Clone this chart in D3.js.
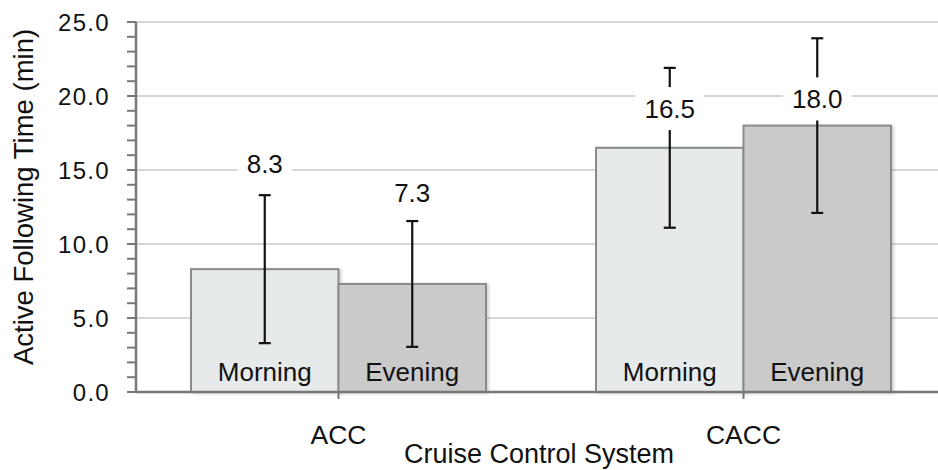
<!DOCTYPE html>
<html>
<head>
<meta charset="utf-8">
<script src="https://cdn.jsdelivr.net/npm/d3@7"></script>
<style>
  html, body { margin: 0; padding: 0; background: #fff; }
  svg { display: block; }
  text { font-family: "Liberation Sans", Arial, Helvetica, sans-serif; fill: #111; }
</style>
</head>
<body>
<svg id="chart" width="938" height="470"></svg>
<script>
// ---- data ----
const categories = ["ACC", "CACC"];
const series = ["Morning", "Evening"];
const values = [[8.3, 7.3], [16.5, 18.0]];
const errors = [[5.0, 4.25], [5.4, 5.9]];
const valueLabels = [["8.3", "7.3"], ["16.5", "18.0"]];
const labelAt = [[15.4, 13.45], [19.15, 19.8]];   // where the value label sits (in y units)
const yTicks = [0, 5, 10, 15, 20, 25];
const yMinorTicks = d3.range(0, 26, 1);
const yTitle = "Active Following Time (min)";
const xTitle = "Cruise Control System";

// ---- layout ----
const svg = d3.select("#chart");
const W = 938, H = 470;
const mLeft = 136, mRight = 946, mTop = 22, mBottom = 392;

const y = d3.scaleLinear().domain([0, 25]).range([mBottom, mTop]);
const x0 = d3.scaleBand().domain(categories).range([mLeft, mRight]).paddingInner(0).paddingOuter(0);
const x1 = d3.scaleBand().domain(series).range([0, x0.bandwidth()]).paddingInner(0).paddingOuter(0.373);

const fills = { Morning: "#e7eaeb", Evening: "#cacaca" };

// shadow filter
const defs = svg.append("defs");
const f = defs.append("filter").attr("id", "sh").attr("x", "-10%").attr("y", "-10%").attr("width", "130%").attr("height", "130%");
f.append("feDropShadow").attr("dx", 2).attr("dy", 1).attr("stdDeviation", 1.5).attr("flood-color", "#000").attr("flood-opacity", 0.18);

// gridlines
svg.append("g").selectAll("line").data(yTicks.filter(d => d > 0)).join("line")
  .attr("x1", mLeft).attr("x2", W)
  .attr("y1", d => y(d)).attr("y2", d => y(d))
  .attr("stroke", "#d6d6d6").attr("stroke-width", 2);

// bars
const groups = svg.append("g").selectAll("g").data(categories).join("g")
  .attr("transform", d => `translate(${x0(d)},0)`);

groups.each(function(cat, ci) {
  const g = d3.select(this);
  series.forEach((s, si) => {
    const v = values[ci][si];
    g.append("rect")
      .attr("x", x1(s)).attr("y", y(v))
      .attr("width", x1.bandwidth()).attr("height", y(0) - y(v))
      .attr("fill", fills[s]).attr("stroke", "#8a8a8a").attr("stroke-width", 2)
      .attr("filter", "url(#sh)");
  });
  series.forEach((s, si) => {
    g.append("text")
      .attr("x", x1(s) + x1.bandwidth() / 2).attr("y", y(0) - 11)
      .attr("text-anchor", "middle").attr("font-size", 26)
      .text(s);
  });
});

// error bars
groups.each(function(cat, ci) {
  const g = d3.select(this);
  series.forEach((s, si) => {
    const v = values[ci][si], e = errors[ci][si];
    const cx = x1(s) + x1.bandwidth() / 2;
    const eg = g.append("g").attr("stroke", "#111").attr("stroke-width", 2.2);
    eg.append("line").attr("x1", cx).attr("x2", cx).attr("y1", y(v + e)).attr("y2", y(v - e));
    eg.append("line").attr("x1", cx - 6).attr("x2", cx + 6).attr("y1", y(v + e)).attr("y2", y(v + e));
    eg.append("line").attr("x1", cx - 6).attr("x2", cx + 6).attr("y1", y(v - e)).attr("y2", y(v - e));
  });
});

// value labels with white boxes
groups.each(function(cat, ci) {
  const g = d3.select(this);
  series.forEach((s, si) => {
    const cx = x1(s) + x1.bandwidth() / 2;
    const cy = y(labelAt[ci][si]);
    const lg = g.append("g");
    const t = lg.append("text")
      .attr("x", cx).attr("y", cy).attr("dy", "0.35em")
      .attr("text-anchor", "middle").attr("font-size", 26)
      .text(valueLabels[ci][si]);
    const bb = t.node().getBBox();
    lg.insert("rect", "text")
      .attr("x", bb.x - 9).attr("y", cy - 21.5)
      .attr("width", bb.width + 18).attr("height", 43)
      .attr("fill", "#fff");
  });
});

// y axis
const yAxis = svg.append("g");
yAxis.append("line").attr("x1", mLeft).attr("x2", mLeft).attr("y1", mTop).attr("y2", mBottom)
  .attr("stroke", "#777").attr("stroke-width", 2.5);
yAxis.selectAll("line.minor").data(yMinorTicks).join("line").attr("class", "minor")
  .attr("x1", mLeft - 9).attr("x2", mLeft)
  .attr("y1", d => y(d)).attr("y2", d => y(d))
  .attr("stroke", "#777").attr("stroke-width", 2);
yAxis.selectAll("text").data(yTicks).join("text")
  .attr("x", mLeft - 26).attr("y", d => y(d)).attr("dy", "0.36em")
  .attr("text-anchor", "end").attr("font-size", 24).attr("letter-spacing", 1.3)
  .text(d => d3.format(".1f")(d));

// x axis
const xAxis = svg.append("g");
xAxis.append("line").attr("x1", mLeft).attr("x2", W).attr("y1", mBottom).attr("y2", mBottom)
  .attr("stroke", "#777").attr("stroke-width", 2.5);
xAxis.selectAll("line.tk").data(categories).join("line").attr("class", "tk")
  .attr("x1", d => x0(d) + x0.bandwidth() / 2).attr("x2", d => x0(d) + x0.bandwidth() / 2)
  .attr("y1", mBottom).attr("y2", mBottom + 7)
  .attr("stroke", "#777").attr("stroke-width", 2);
xAxis.selectAll("text").data(categories).join("text")
  .attr("x", d => x0(d) + x0.bandwidth() / 2).attr("y", 444)
  .attr("text-anchor", "middle").attr("font-size", 26.5)
  .text(d => d);

// titles
svg.append("text").attr("x", (mLeft + mRight) / 2 - 2).attr("y", 463)
  .attr("text-anchor", "middle").attr("font-size", 27).text(xTitle);
svg.append("text").attr("transform", `translate(33,${(mTop + mBottom) / 2 - 10}) rotate(-90)`)
  .attr("text-anchor", "middle").attr("font-size", 27.5).text(yTitle);
</script>
</body>
</html>
